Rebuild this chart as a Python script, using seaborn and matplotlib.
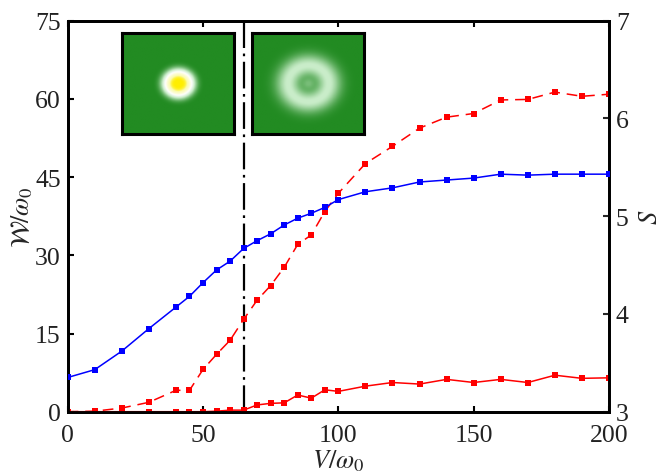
import numpy as np
import pandas as pd
import seaborn as sns
import matplotlib.pyplot as plt
from matplotlib.colors import LinearSegmentedColormap

sns.set_style("ticks")
plt.rcParams['font.family'] = ['Liberation Serif', 'DejaVu Serif']
plt.rcParams['mathtext.fontset'] = 'stix'

# data
V = [0, 10, 20, 30, 40, 45, 50, 55, 60, 65, 70, 75, 80, 85, 90, 95, 100,
     110, 120, 130, 140, 150, 160, 170, 180, 190, 200]
W_dashed = [0, 0.1, 0.7, 1.8, 4.1, 4.1, 8.1, 11.0, 13.7, 17.7, 21.4, 24.2, 27.7,
            32.1, 33.9, 38.4, 41.9, 47.6, 50.9, 54.4, 56.5, 57.2, 59.8, 59.9,
            61.3, 60.5, 60.9]
W_solid = [0, 0, 0, 0, 0, 0, 0, 0.1, 0.3, 0.3, 1.3, 1.6, 1.7, 3.2, 2.6, 4.2, 3.9,
           4.9, 5.6, 5.3, 6.2, 5.6, 6.2, 5.6, 7.0, 6.4, 6.5]
S_blue = [3.35, 3.43, 3.62, 3.85, 4.07, 4.18, 4.32, 4.45, 4.54, 4.67, 4.75, 4.82,
          4.91, 4.98, 5.03, 5.09, 5.17, 5.25, 5.29, 5.35, 5.37, 5.39, 5.43, 5.42,
          5.43, 5.43, 5.43]
V_crit = 65

x_ticks = [0, 50, 100, 150, 200]
w_ticks = [0, 15, 30, 45, 60, 75]
s_ticks = [3, 4, 5, 6, 7]

df = pd.DataFrame({'V': V, 'Wd': W_dashed, 'Ws': W_solid, 'S': S_blue})

fig = plt.figure(figsize=(6.72, 4.77), dpi=100)
ax = fig.add_axes([0.1007, 0.1348, 0.8056, 0.8197])
ax2 = ax.twinx()

sns.lineplot(data=df, x='V', y='Wd', ax=ax, color='#ff0000', lw=1.1,
             marker='s', markersize=4, markeredgewidth=0,
             linestyle=(0, (7, 4.5)), zorder=3)
sns.lineplot(data=df, x='V', y='Ws', ax=ax, color='#ff0000', lw=1.1,
             marker='s', markersize=4, markeredgewidth=0, zorder=3)
sns.lineplot(data=df, x='V', y='S', ax=ax2, color='#0000ff', lw=1.1,
             marker='s', markersize=4, markeredgewidth=0, zorder=3)

ax.axvline(V_crit, color='black', lw=1.6, linestyle=(0, (12, 2.5, 1.2, 2.5)), zorder=2)

ax.set_xlim(0, 200)
ax.set_ylim(0, 75)
ax2.set_ylim(3, 7)
ax.set_xticks(x_ticks)
ax.set_yticks(w_ticks)
ax2.set_yticks(s_ticks)

ax.set_xlabel(r'$V/\omega_0$', fontsize=19, labelpad=1)
ax.set_ylabel(r'$\mathcal{W}/\omega_0$', fontsize=19, labelpad=0)
ax2.set_ylabel(r'$S$', fontsize=19, labelpad=8)

for a in (ax, ax2):
    for sp in a.spines.values():
        sp.set_linewidth(2)
        sp.set_color('black')
ax.tick_params(axis='both', direction='in', length=4, width=1.5, labelsize=18.5,
               pad=5, top=True, colors='black', labelcolor='#222222')
ax.tick_params(axis='x', pad=9)
ax2.tick_params(axis='y', direction='in', length=4, width=1.5, labelsize=18.5,
                pad=5, labelcolor='#222222')

# inset images of the two density profiles
cmap = LinearSegmentedColormap.from_list(
    'spot', [(0.0, '#228b22'), (0.45, '#c8ecc8'), (0.7, '#ffffff'),
             (0.93, '#fbfbb0'), (1.0, '#ffee00')])
g = np.linspace(-1, 1, 200)
xx, yy = np.meshgrid(g, g)
rr = np.sqrt(xx ** 2 + yy ** 2)
img_left = np.exp(-(rr / 0.3) ** 4)
img_right = 0.46 * np.exp(-((rr - 0.36) / 0.22) ** 2) + 0.2 * np.exp(-(rr / 0.1) ** 2)

for left, img in ((0.1815, img_left), (0.375, img_right)):
    ins = fig.add_axes([left, 0.717, 0.1667, 0.2117])
    ins.imshow(img, cmap=cmap, vmin=0, vmax=1, aspect='auto', interpolation='bilinear')
    ins.set_xticks([])
    ins.set_yticks([])
    for sp in ins.spines.values():
        sp.set_linewidth(2.2)
        sp.set_color('black')

fig.savefig('out.png', dpi=100)
